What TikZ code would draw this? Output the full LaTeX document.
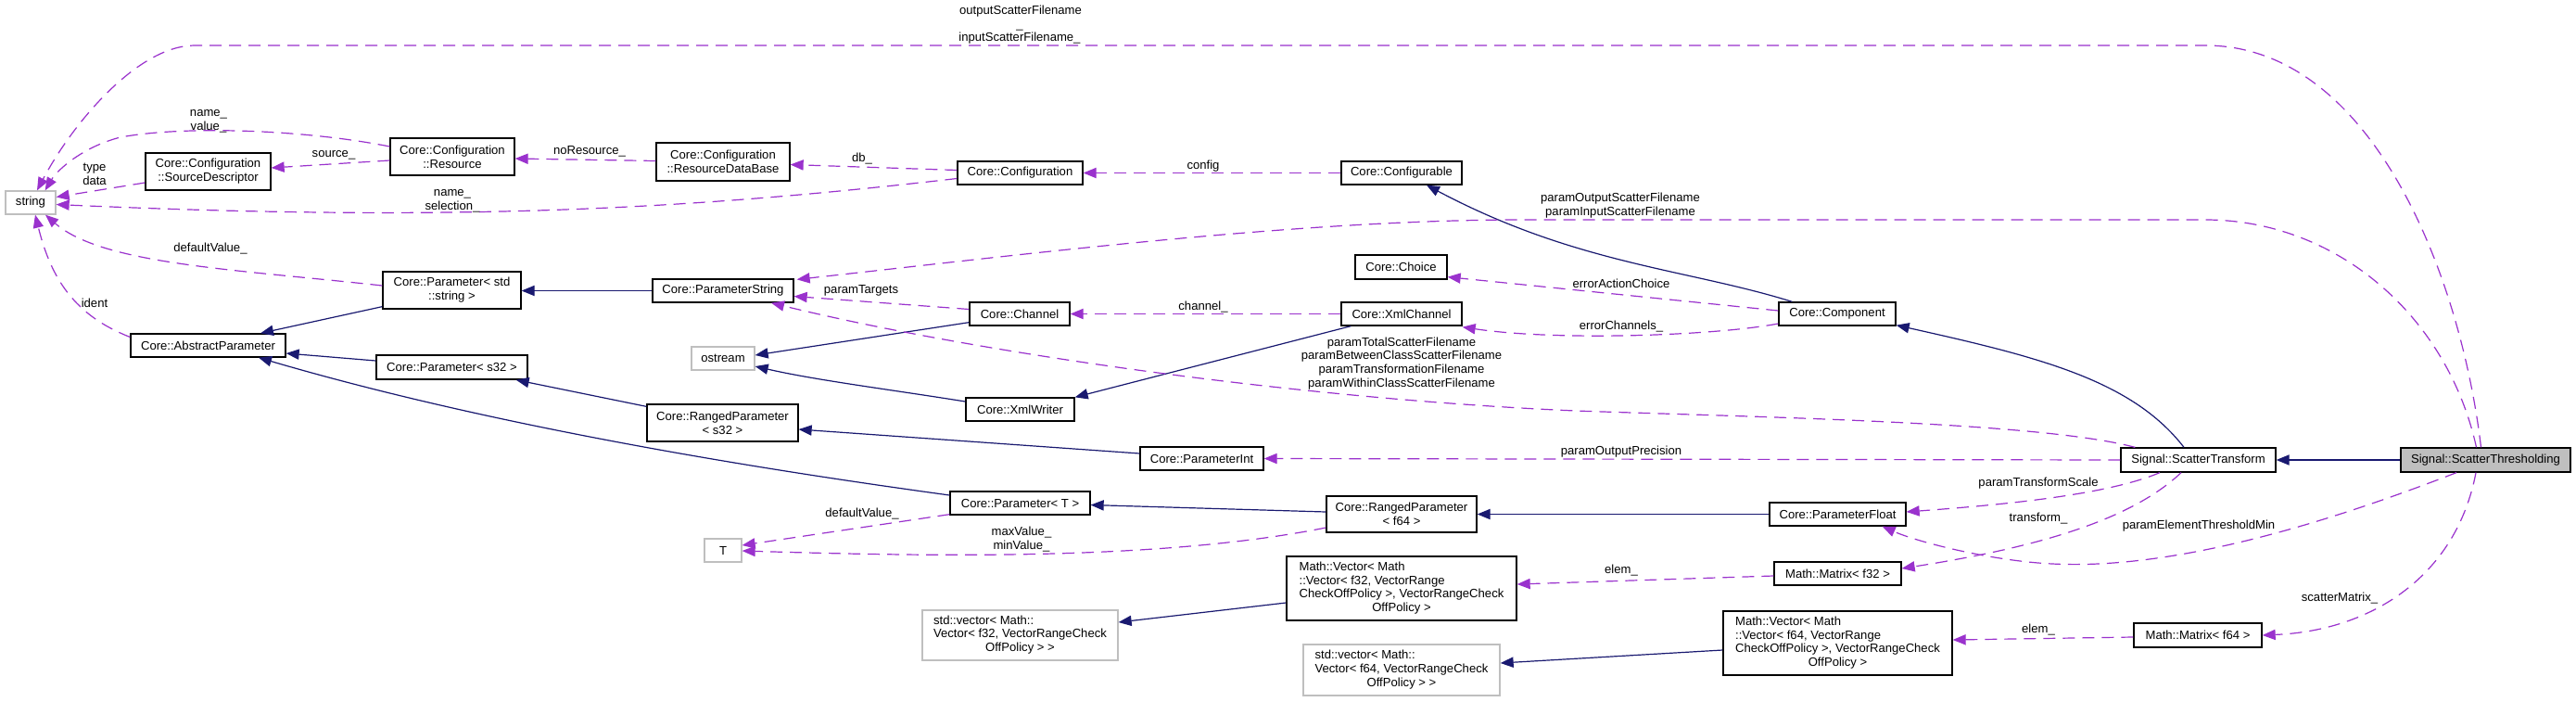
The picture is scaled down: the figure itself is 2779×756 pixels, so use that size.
\documentclass[tikz,border=0pt]{standalone}
\usepackage{fontspec}
\setmainfont{Liberation Sans}
\usetikzlibrary{arrows.meta,calc}
\definecolor{navyc}{HTML}{191970}
\definecolor{orchidc}{HTML}{9A32CD}
\definecolor{lgrayc}{HTML}{BFBFBF}
\begin{document}
\begin{tikzpicture}[x=0.5pt,y=-0.5pt,
  every node/.style={font=\fontsize{6.55}{7.4}\selectfont, inner sep=0pt},
  sz/.style 2 args={minimum width=#1*0.5pt, minimum height=#2*0.5pt},
  clsbox/.style={draw=black, line width=0.65pt, fill=white, align=center},
  extbox/.style={draw=lgrayc, line width=0.65pt, fill=white, align=center},
  inhedge/.style={draw=navyc, line width=0.6pt, -{Triangle[length=7pt,width=5.6pt]}},
  usedge/.style={draw=orchidc, line width=0.6pt, dash pattern=on 6.5pt off 4pt, -{Triangle[length=7pt,width=5.6pt]}},
  lbl/.style={align=center}]
\fill[white] (0,0) rectangle (2779,756);
\useasboundingbox (0,0) rectangle (2779,756);

% ---------- nodes ----------
\node[extbox, sz={54}{25}] (string) at (33,218.5) {string};
\node[clsbox, sz={135}{40}] (srcdesc) at (224.5,185) {Core::Configuration\\::SourceDescriptor};
\node[clsbox, sz={134}{40}] (resource) at (488,169) {Core::Configuration\\::Resource};
\node[clsbox, sz={144}{41}] (resdb) at (780,174.5) {Core::Configuration\\::ResourceDataBase};
\node[clsbox, sz={135}{25}] (config) at (1100.5,186.5) {Core::Configuration};
\node[clsbox, sz={130}{25}] (configurable) at (1512,186.5) {Core::Configurable};
\node[clsbox, sz={149}{40}] (pstdstr) at (487.5,313) {Core::Parameter< std\\::string >};
\node[clsbox, sz={167}{25}] (abspar) at (224.5,372.5) {Core::AbstractParameter};
\node[clsbox, sz={152}{25}] (pstring) at (780,313.5) {Core::ParameterString};
\node[clsbox, sz={108}{25}] (channel) at (1100,338.5) {Core::Channel};
\node[clsbox, sz={99}{26}] (choice) at (1511.5,288) {Core::Choice};
\node[clsbox, sz={130}{25}] (xmlchannel) at (1512,338.5) {Core::XmlChannel};
\node[clsbox, sz={126}{25}] (component) at (1982,338.5) {Core::Component};
\node[extbox, sz={68}{25}] (ostream) at (780,386.5) {ostream};
\node[clsbox, sz={163}{26}] (ps32) at (487.5,396) {Core::Parameter< s32 >};
\node[clsbox, sz={117}{25}] (xmlwriter) at (1100.5,441.5) {Core::XmlWriter};
\node[clsbox, sz={163}{40}] (rps32) at (779.5,456) {Core::RangedParameter\\< s32 >};
\node[clsbox, sz={133}{25}] (pint) at (1296.5,494.5) {Core::ParameterInt};
\node[clsbox, sz={167}{26}] (sxform) at (2371.5,496) {Signal::ScatterTransform};
\node[clsbox, sz={183}{26}, fill=lgrayc] (sthresh) at (2681.5,496) {Signal::ScatterThresholding};
\node[clsbox, sz={151}{25}] (pT) at (1100.5,542.5) {Core::Parameter< T >};
\node[clsbox, sz={162}{39}] (rpf64) at (1512,554.5) {Core::RangedParameter\\< f64 >};
\node[clsbox, sz={147}{25}] (pfloat) at (1982.5,554.5) {Core::ParameterFloat};
\node[extbox, sz={40}{25}] (T) at (780,593.5) {T};
\node[clsbox, sz={248}{69}] (vecf32) at (1512,634.5) {\begin{tabular}{@{}l@{}}Math::Vector< Math\\::Vector< f32, VectorRange\\CheckOffPolicy >, VectorRangeCheck\\\multicolumn{1}{@{}c@{}}{OffPolicy >}\end{tabular}};
\node[clsbox, sz={137}{25}] (matf32) at (1982.5,618.5) {Math::Matrix< f32 >};
\node[extbox, sz={211}{54}] (stdf32) at (1100.5,685) {\begin{tabular}{@{}l@{}}std::vector< Math::\\Vector< f32, VectorRangeCheck\\\multicolumn{1}{@{}c@{}}{OffPolicy > >}\end{tabular}};
\node[clsbox, sz={138}{26}] (matf64) at (2371,685) {Math::Matrix< f64 >};
\node[clsbox, sz={247}{69}] (vecf64) at (1982.5,693.5) {\begin{tabular}{@{}l@{}}Math::Vector< Math\\::Vector< f64, VectorRange\\CheckOffPolicy >, VectorRangeCheck\\\multicolumn{1}{@{}c@{}}{OffPolicy >}\end{tabular}};
\node[extbox, sz={212}{55}] (stdf64) at (1512,722.5) {\begin{tabular}{@{}l@{}}std::vector< Math::\\Vector< f64, VectorRangeCheck\\\multicolumn{1}{@{}c@{}}{OffPolicy > >}\end{tabular}};

% ---------- inheritance edges ----------
\draw[inhedge] ($(pstdstr.south west)+(0,-3)$) -- ($(abspar.north)+(56.5,0)$);
\draw[inhedge] (pstring.west) -- ($(pstdstr.east)+(0,0.5)$);
\draw[inhedge] ($(ps32.west)+(0,-7)$) -- ($(abspar.east)+(0,8.5)$);
\draw[inhedge] ($(rps32.north west)+(0,3)$) -- ($(ps32.south east)+(-13,0)$);
\draw[inhedge] ($(pint.west)+(0,-5.5)$) -- ($(rps32.east)+(0,7)$);
\draw[inhedge] ($(pT.west)+(0,-8.5)$) .. controls (850,510) and (550,465) .. ($(abspar.south)+(54.5,0)$);
\draw[inhedge] ($(rpf64.west)+(0,-2.5)$) -- ($(pT.east)+(0,2)$);
\draw[inhedge] (pfloat.west) -- (rpf64.east);
\draw[inhedge] ($(channel.south west)+(0,-4)$) -- ($(ostream.east)+(0,-3.5)$);
\draw[inhedge] ($(xmlwriter.west)+(0,-8.5)$) .. controls (960,420) and (880,410) .. ($(ostream.east)+(0,8.5)$);
\draw[inhedge] ($(xmlchannel.south west)+(11,0)$) -- (xmlwriter.north east);
\draw[inhedge] ($(component.north west)+(15,0)$) .. controls (1820,290) and (1700,285) .. ($(configurable.south)+(27,0)$);
\draw[inhedge] ($(sxform.north)+(-15.5,0)$) .. controls (2300,410) and (2200,385) .. ($(component.south east)+(0,-1)$);
\draw[inhedge] (sthresh.west) -- (sxform.east);
\draw[inhedge] ($(vecf32.west)+(0,15.5)$) -- ($(stdf32.east)+(0,-14)$);
\draw[inhedge] ($(vecf64.west)+(0,7.5)$) -- ($(stdf64.east)+(0,-7.5)$);

% ---------- usage edges ----------
\draw[usedge] ($(sthresh.north)+(-5,0)$) .. controls (2655,300) and (2560,49) .. (2379,49) -- (210,49) .. controls (150,49) and (80,130) .. ($(string.north)+(7,0)$);
\draw[usedge] ($(resource.west)+(0,-11)$) .. controls (330,140) and (200,135) .. (130,148) .. controls (90,158) and (62,183) .. ($(string.north east)+(-12,0)$);
\draw[usedge] ($(srcdesc.west)+(0,12)$) -- ($(string.east)+(0,-6)$);
\draw[usedge] ($(config.west)+(0,6)$) .. controls (750,225) and (500,240) .. ($(string.east)+(0,2)$);
\draw[usedge] ($(pstdstr.west)+(0,-5)$) .. controls (250,290) and (110,285) .. ($(string.south)+(16,0)$);
\draw[usedge] ($(abspar.west)+(0,-9)$) .. controls (80,340) and (55,300) .. ($(string.south)+(5,0)$);
\draw[usedge] ($(resource.west)+(0,4)$) -- ($(srcdesc.east)+(0,-4)$);
\draw[usedge] ($(resdb.west)+(0,-1)$) -- ($(resource.east)+(0,2)$);
\draw[usedge] ($(config.west)+(0,-3)$) -- ($(resdb.east)+(0,3)$);
\draw[usedge] (configurable.west) -- (config.east);
\draw[usedge] ($(sthresh.north)+(-10,0)$) .. controls (2640,340) and (2520,237) .. (2379,237) -- (1640,237) .. controls (1400,237) and (1100,275) .. ($(pstring.north east)+(3,1)$);
\draw[usedge] ($(channel.west)+(0,-5)$) -- ($(pstring.east)+(0,6)$);
\draw[usedge] ($(sxform.north west)+(16,0)$) .. controls (2200,455) and (1900,450) .. (1700,443) .. controls (1400,430) and (1050,380) .. ($(pstring.south)+(52,0)$);
\draw[usedge] (xmlchannel.west) -- (channel.east);
\draw[usedge] ($(component.west)+(0,-3.5)$) -- ($(choice.south east)+(0,-3)$);
\draw[usedge] ($(component.west)+(0,10.5)$) .. controls (1850,362) and (1680,368) .. ($(xmlchannel.south east)+(0,1)$);
\draw[usedge] (sxform.west) -- (pint.east);
\draw[usedge] ($(pT.south west)+(0,-1)$) -- ($(T.east)+(0,-5.5)$);
\draw[usedge] ($(rpf64.west)+(0,14.5)$) .. controls (1250,605) and (1000,600) .. ($(T.east)+(0,0.5)$);
\draw[usedge] ($(sxform.south)+(-41.5,0)$) .. controls (2270,535) and (2150,545) .. ($(pfloat.east)+(0,-2.5)$);
\draw[usedge] ($(sthresh.south)+(-31.5,0)$) .. controls (2520,560) and (2350,615) .. (2214,608) .. controls (2150,605) and (2070,585) .. ($(pfloat.south east)+(-26,0)$);
\draw[usedge] ($(sxform.south)+(-18.5,0)$) .. controls (2300,560) and (2200,590) .. ($(matf32.east)+(0,-5.5)$);
\draw[usedge] ($(matf32.west)+(0,2.5)$) -- ($(vecf32.east)+(0,-4.5)$);
\draw[usedge] ($(sthresh.south)+(-10.5,0)$) .. controls (2650,620) and (2560,680) .. (matf64.east);
\draw[usedge] ($(matf64.west)+(0,2)$) -- ($(vecf64.east)+(0,-3.5)$);

% ---------- labels ----------
\node[lbl] (l1a) at (1101,12) {outputScatterFilename};
\node[lbl, anchor=base] (l1b) at (1100,30.5) {\_};
\node[lbl] (l1c) at (1100,41) {inputScatterFilename\_};
\node[lbl] (l2) at (225,131) {name\_\\value\_};
\node[lbl] (l3) at (360,167) {source\_};
\node[lbl] (l4) at (102,187.5) {type\\data};
\node[lbl] (l5) at (488,216.5) {name\_\\selection\_};
\node[lbl] (l6) at (227,268) {defaultValue\_};
\node[lbl] (l7) at (102,327) {ident};
\node[lbl] (l8) at (636,163) {noResource\_};
\node[lbl] (l9) at (930,171) {db\_};
\node[lbl] (l10) at (1298,179) {config};
\node[lbl] (l11) at (1748,221.5) {paramOutputScatterFilename\\paramInputScatterFilename};
\node[lbl] (l12) at (929,313) {paramTargets};
\node[lbl] (l13) at (1298,331) {channel\_};
\node[lbl] (l14) at (1749,306) {errorActionChoice};
\node[lbl] (l15) at (1749,352) {errorChannels\_};
\node[lbl] (l16) at (1512,392) {paramTotalScatterFilename\\paramBetweenClassScatterFilename\\paramTransformationFilename\\paramWithinClassScatterFilename};
\node[lbl] (l17) at (1749,487) {paramOutputPrecision};
\node[lbl] (l18) at (930,554) {defaultValue\_};
\node[lbl] (l19) at (1102,581.5) {maxValue\_\\minValue\_};
\node[lbl] (l20) at (2199,521) {paramTransformScale};
\node[lbl] (l21) at (2199,559) {transform\_};
\node[lbl] (l22) at (2372,567) {paramElementThresholdMin};
\node[lbl] (l23) at (1749,615) {elem\_};
\node[lbl] (l24) at (2524,645) {scatterMatrix\_};
\node[lbl] (l25) at (2199,679) {elem\_};
\end{tikzpicture}
\end{document}
